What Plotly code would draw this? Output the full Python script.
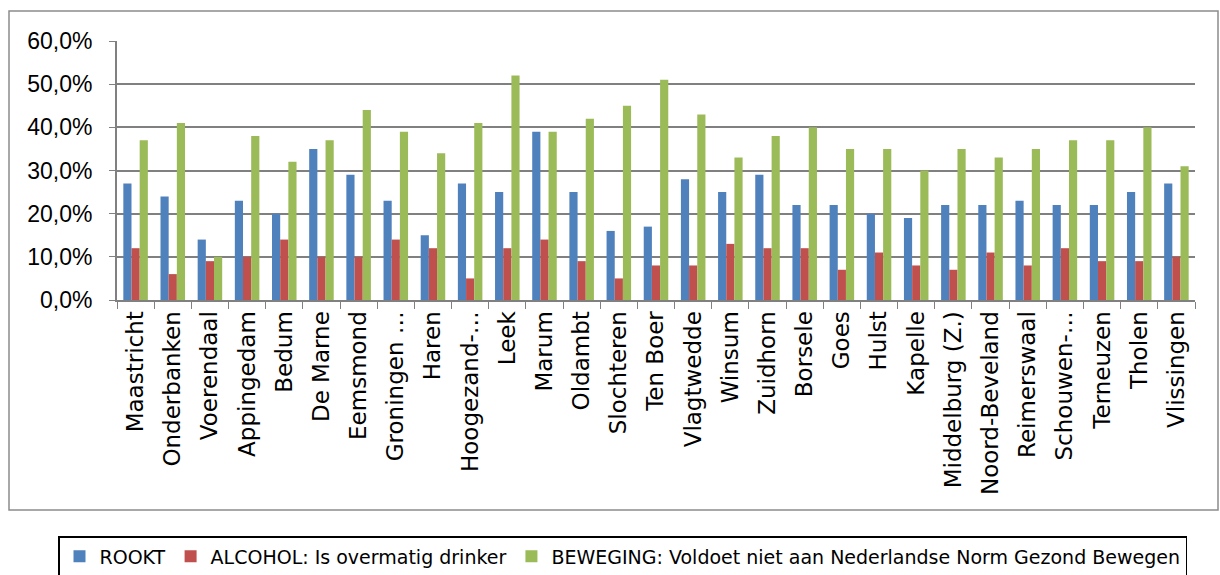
import plotly.graph_objects as go

gemeenten = [
    "Maastricht", "Onderbanken", "Voerendaal", "Appingedam", "Bedum", "De Marne",
    "Eemsmond", "Groningen …", "Haren", "Hoogezand-…", "Leek", "Marum", "Oldambt",
    "Slochteren", "Ten Boer", "Vlagtwedde", "Winsum", "Zuidhorn", "Borsele", "Goes",
    "Hulst", "Kapelle", "Middelburg (Z.)", "Noord-Beveland", "Reimerswaal",
    "Schouwen-…", "Terneuzen", "Tholen", "Vlissingen",
]
rookt = [27, 24, 14, 23, 20, 35, 29, 23, 15, 27, 25, 39, 25, 16, 17, 28, 25, 29,
         22, 22, 20, 19, 22, 22, 23, 22, 22, 25, 27]
alcohol = [12, 6, 9, 10, 14, 10, 10, 14, 12, 5, 12, 14, 9, 5, 8, 8, 13, 12,
           12, 7, 11, 8, 7, 11, 8, 12, 9, 9, 10]
beweging = [37, 41, 10, 38, 32, 37, 44, 39, 34, 41, 52, 39, 42, 45, 51, 43, 33, 38,
            40, 35, 35, 30, 35, 33, 35, 37, 37, 40, 31]

y_ticks = [0, 10, 20, 30, 40, 50, 60]
y_ticktext = [f"{v:.1f}".replace(".", ",") + "%" for v in y_ticks]

series_names = [
    "ROOKT",
    "ALCOHOL: Is overmatig drinker",
    "BEWEGING: Voldoet niet aan Nederlandse Norm Gezond Bewegen",
]
colors = ["#4F81BD", "#C0504D", "#9BBB59"]

fig = go.Figure()
for name, vals, col in zip(series_names, [rookt, alcohol, beweging], colors):
    fig.add_trace(go.Bar(x=gemeenten, y=vals, name=name, marker_color=col,
                         marker_line_width=0))

# plot area in pixels: left 117, right 1195, top 41, bottom 300
L, R, T, B = 117, 1195, 41, 300
W, H = 1220, 575
pw, ph = R - L, B - T


def px(x):
    return (x - L) / pw


def py(y):
    return (B - y) / ph


fig.update_layout(
    width=W, height=H,
    margin=dict(l=L, r=W - R, t=T, b=H - B, autoexpand=False),
    paper_bgcolor="white", plot_bgcolor="white",
    barmode="group", bargap=0.34, bargroupgap=0,
    font=dict(family="DejaVu Sans", color="black"),
    showlegend=True,
    legend=dict(
        orientation="h", x=px(58), y=py(536), xanchor="left", yanchor="top",
        bordercolor="black", borderwidth=1.5,
        font=dict(size=19, family="DejaVu Sans"),
        itemwidth=30, tracegroupgap=0,
    ),
    shapes=[
        dict(type="rect", xref="paper", yref="paper",
             x0=px(9), x1=px(1218), y0=py(11), y1=py(510),
             line=dict(color="#8C8C8C", width=1.5), layer="below"),
    ],
)

fig.update_yaxes(
    range=[0, 60], tickvals=y_ticks, ticktext=y_ticktext,
    showgrid=True, gridcolor="#808080", gridwidth=2,
    showline=True, linecolor="#808080", linewidth=2,
    ticks="outside", ticklen=6, tickcolor="#808080", ticklabelstandoff=12,
    tickfont=dict(size=23, family="Liberation Sans Narrow, Liberation Sans"),
    zeroline=False,
)
fig.update_xaxes(
    tickangle=-90, tickfont=dict(size=23, family="DejaVu Sans"),
    showline=True, linecolor="#808080", linewidth=2,
    ticks="outside", tickson="boundaries", ticklen=7, tickcolor="#808080",
    range=[-0.5, len(gemeenten) - 0.5],
)

fig.write_html("out.html")
